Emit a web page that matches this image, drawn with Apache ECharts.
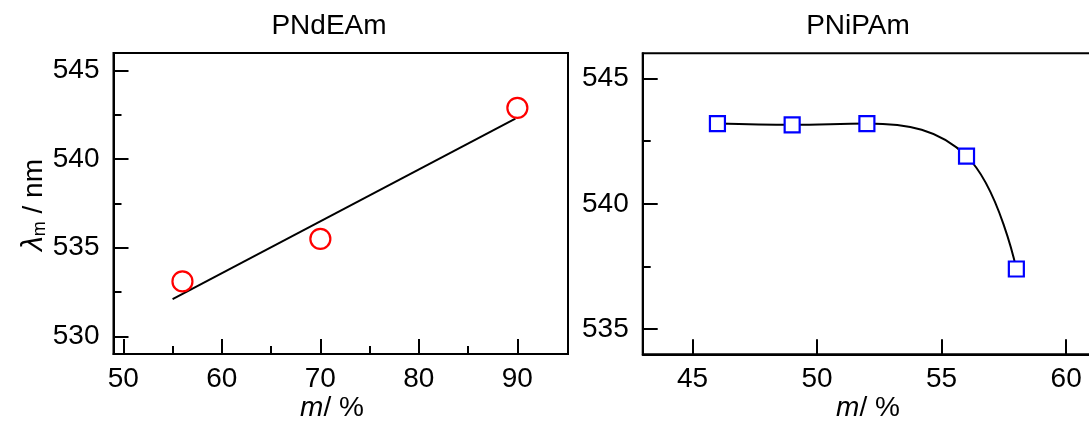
<!DOCTYPE html>
<html>
<head>
<meta charset="utf-8">
<script src="https://cdn.jsdelivr.net/npm/echarts@6/dist/echarts.min.js"></script>
<style>html,body{margin:0;padding:0;background:#fff}#c{width:1089px;height:423px}</style>
</head>
<body>
<div id="c"></div>
<script>
// ---- data ----
const titles = ['PNdEAm', 'PNiPAm'];
const pndeamX = [56, 70, 90];
const pndeamY = [533.1, 535.5, 542.9];
const pndeamFitX = [55, 89.8];
const pndeamFitY = [532.1, 542.3];
const pnipamX = [46, 49, 52, 56, 58];
const pnipamY = [543.2, 543.15, 543.2, 541.9, 537.4];
const leftXTicks = [50, 60, 70, 80, 90];
const leftXMinor = [55, 65, 75, 85];
const leftYTicks = [530, 535, 540, 545];
const leftYMinor = [532.5, 537.5, 542.5];
const rightXTicks = [45, 50, 55, 60];
const rightYTicks = [535, 540, 545];
const rightYMinor = [537.5, 542.5];

const FONT = 'Liberation Sans, Arial, sans-serif';
const FS = 28;
const chart = echarts.init(document.getElementById('c'));

function zip(a, b) { return a.map((v, i) => [v, b[i]]); }

function majorAxis(gridIndex, min, max, ticks, pos, margin) {
  return {
    type: 'value', gridIndex, min, max, position: pos,
    splitLine: {show: false},
    axisLine: {show: true, onZero: false, lineStyle: {color: '#000', width: 2}},
    axisTick: {show: true, inside: true, length: 15, customValues: ticks, lineStyle: {color: '#000', width: 2}},
    axisLabel: {show: true, customValues: ticks, color: '#000', fontSize: FS, fontFamily: FONT, margin: margin, hideOverlap: false},
  };
}
function minorAxis(gridIndex, min, max, ticks, pos) {
  return {
    type: 'value', gridIndex, min, max, position: pos,
    splitLine: {show: false},
    axisLine: {show: false, onZero: false},
    axisTick: {show: true, inside: true, length: 8, customValues: ticks, lineStyle: {color: '#000', width: 2}},
    axisLabel: {show: false},
  };
}

const option = {
  backgroundColor: '#fff',
  animation: false,
  grid: [
    {left: 113.5, top: 53, width: 454.5, height: 301, show: true, borderColor: '#000', borderWidth: 2, backgroundColor: 'transparent', outerBoundsMode: 'none', containLabel: false},
    {left: 642.7, top: 53.3, width: 461, height: 301, show: true, borderColor: '#000', borderWidth: 2, backgroundColor: 'transparent', outerBoundsMode: 'none', containLabel: false}
  ],
  xAxis: [
    majorAxis(0, 49, 95.14, leftXTicks, 'bottom', 11),
    minorAxis(0, 49, 95.14, leftXMinor, 'bottom'),
    majorAxis(1, 43.0, 43.0 + 461 / 24.91, rightXTicks, 'bottom', 11)
  ],
  yAxis: [
    majorAxis(0, 529.0, 546.0, leftYTicks, 'left', 14),
    minorAxis(0, 529.0, 546.0, leftYMinor, 'left'),
    majorAxis(1, 534.0, 546.0, rightYTicks, 'left', 14),
    minorAxis(1, 534.0, 546.0, rightYMinor, 'left')
  ],
  series: [
    {
      type: 'line', xAxisIndex: 0, yAxisIndex: 0, data: zip(pndeamFitX, pndeamFitY),
      showSymbol: false, symbol: 'none', lineStyle: {color: '#000', width: 2}, z: 2
    },
    {
      type: 'scatter', xAxisIndex: 0, yAxisIndex: 0, data: zip(pndeamX, pndeamY),
      symbol: 'circle', symbolSize: 20,
      itemStyle: {color: 'rgba(255,255,255,0)', borderColor: '#ff0000', borderWidth: 2.2, opacity: 1}, z: 3
    },
    {
      type: 'line', xAxisIndex: 2, yAxisIndex: 2, data: zip(pnipamX, pnipamY),
      smooth: 0.4,
      symbol: 'rect', symbolSize: 15, showSymbol: true,
      lineStyle: {color: '#000', width: 2},
      itemStyle: {color: '#fff', borderColor: '#0000ff', borderWidth: 2.2}, z: 3
    }
  ],
  graphic: [
    {type: 'text', x: 329, y: 26, style: {text: titles[0], font: '28px ' + FONT, fill: '#000', align: 'center', verticalAlign: 'middle'}},
    {type: 'text', x: 858, y: 26, style: {text: titles[1], font: '28px ' + FONT, fill: '#000', align: 'center', verticalAlign: 'middle'}},
    {type: 'text', x: 332, y: 408, style: {text: '{i|m}/ %', fontSize: FS, fontFamily: FONT, fill: '#000', align: 'center', verticalAlign: 'middle', rich: {i: {fontStyle: 'italic', fontSize: FS, fontFamily: FONT}}}},
    {type: 'text', x: 868, y: 408, style: {text: '{i|m}/ %', fontSize: FS, fontFamily: FONT, fill: '#000', align: 'center', verticalAlign: 'middle', rich: {i: {fontStyle: 'italic', fontSize: FS, fontFamily: FONT}}}},
    {type: 'text', x: 34, y: 205, rotation: Math.PI / 2,
     style: {text: '{l|λ}{s|m} / nm', fontSize: FS, fontFamily: FONT, fill: '#000', align: 'center', verticalAlign: 'middle',
       rich: {l: {fontStyle: 'italic', fontSize: 30, fontFamily: FONT}, s: {fontSize: 18, fontFamily: FONT, padding: [12, 0, 0, 0]}}}}
  ]
};
chart.setOption(option);
</script>
</body>
</html>
